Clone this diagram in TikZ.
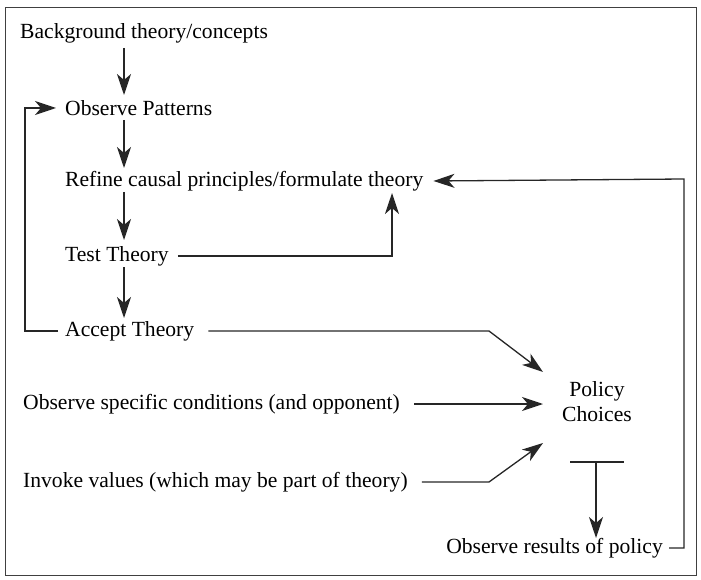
\documentclass[tikz,border=0pt]{standalone}
\usepackage{fontspec}
\setmainfont{Liberation Serif}
\usetikzlibrary{arrows.meta}
\begin{document}
\begin{tikzpicture}[x=1pt,y=-1pt,
  lbl/.style={anchor=west,inner sep=0pt,font=\fontsize{21.6}{25}\selectfont},
  line/.style={line width=1.3pt,draw=black!85},
  arr/.style={line,-{Stealth[length=21pt,width=14pt,inset=6pt]}}]
\useasboundingbox (0,0) rectangle (701,580);
\draw[line width=1pt,draw=black!75] (5,8) rectangle (696,575);
% nodes
\node[lbl] (bg) at (20,33) {Background theory/concepts};
\node[lbl] (op) at (65,108) {Observe Patterns};
\node[lbl] (rf) at (65,181) {Refine causal principles/formulate theory};
\node[lbl] (tt) at (65,256) {Test Theory};
\node[lbl] (at) at (65,331) {Accept Theory};
\node[lbl] (os) at (23,404) {Observe specific conditions (and opponent)};
\node[lbl] (iv) at (23,482) {Invoke values (which may be part of theory)};
\node[inner sep=0pt,align=center,font=\fontsize{21.6}{25}\selectfont] (pc) at (597,402) {Policy\\Choices};
\node[lbl,anchor=east] (or) at (663,548) {Observe results of policy};
% vertical chain
\draw[arr] (124,48) -- (124,95);
\draw[arr] (124,120) -- (124,168);
\draw[arr] (124,192) -- (124,240);
\draw[arr] (124,267) -- (124,318);
% left loop
\draw[arr] ([xshift=-7pt]at.west) -- (25,331) -- (25,108) -- ([xshift=-9pt]op.west);
% test theory feedback
\draw[arr] ([xshift=9pt]tt.east) -- (392,256) -- (392,193);
% right feedback
\draw[arr] ([xshift=6pt]or.east) -- (684,548) -- (684,179) -- ([xshift=10pt]rf.east);
% into policy choices
\draw[arr] ([xshift=14pt]at.east) -- (489,331) -- (543,372);
\draw[arr] ([xshift=14pt]os.east) -- (543,404);
\draw[arr] ([xshift=14pt]iv.east) -- (489,482) -- (543,443);
% T-bar
\draw[line] (570,462) -- (624,462);
\draw[arr] (596,462) -- (596,538);
\end{tikzpicture}
\end{document}
